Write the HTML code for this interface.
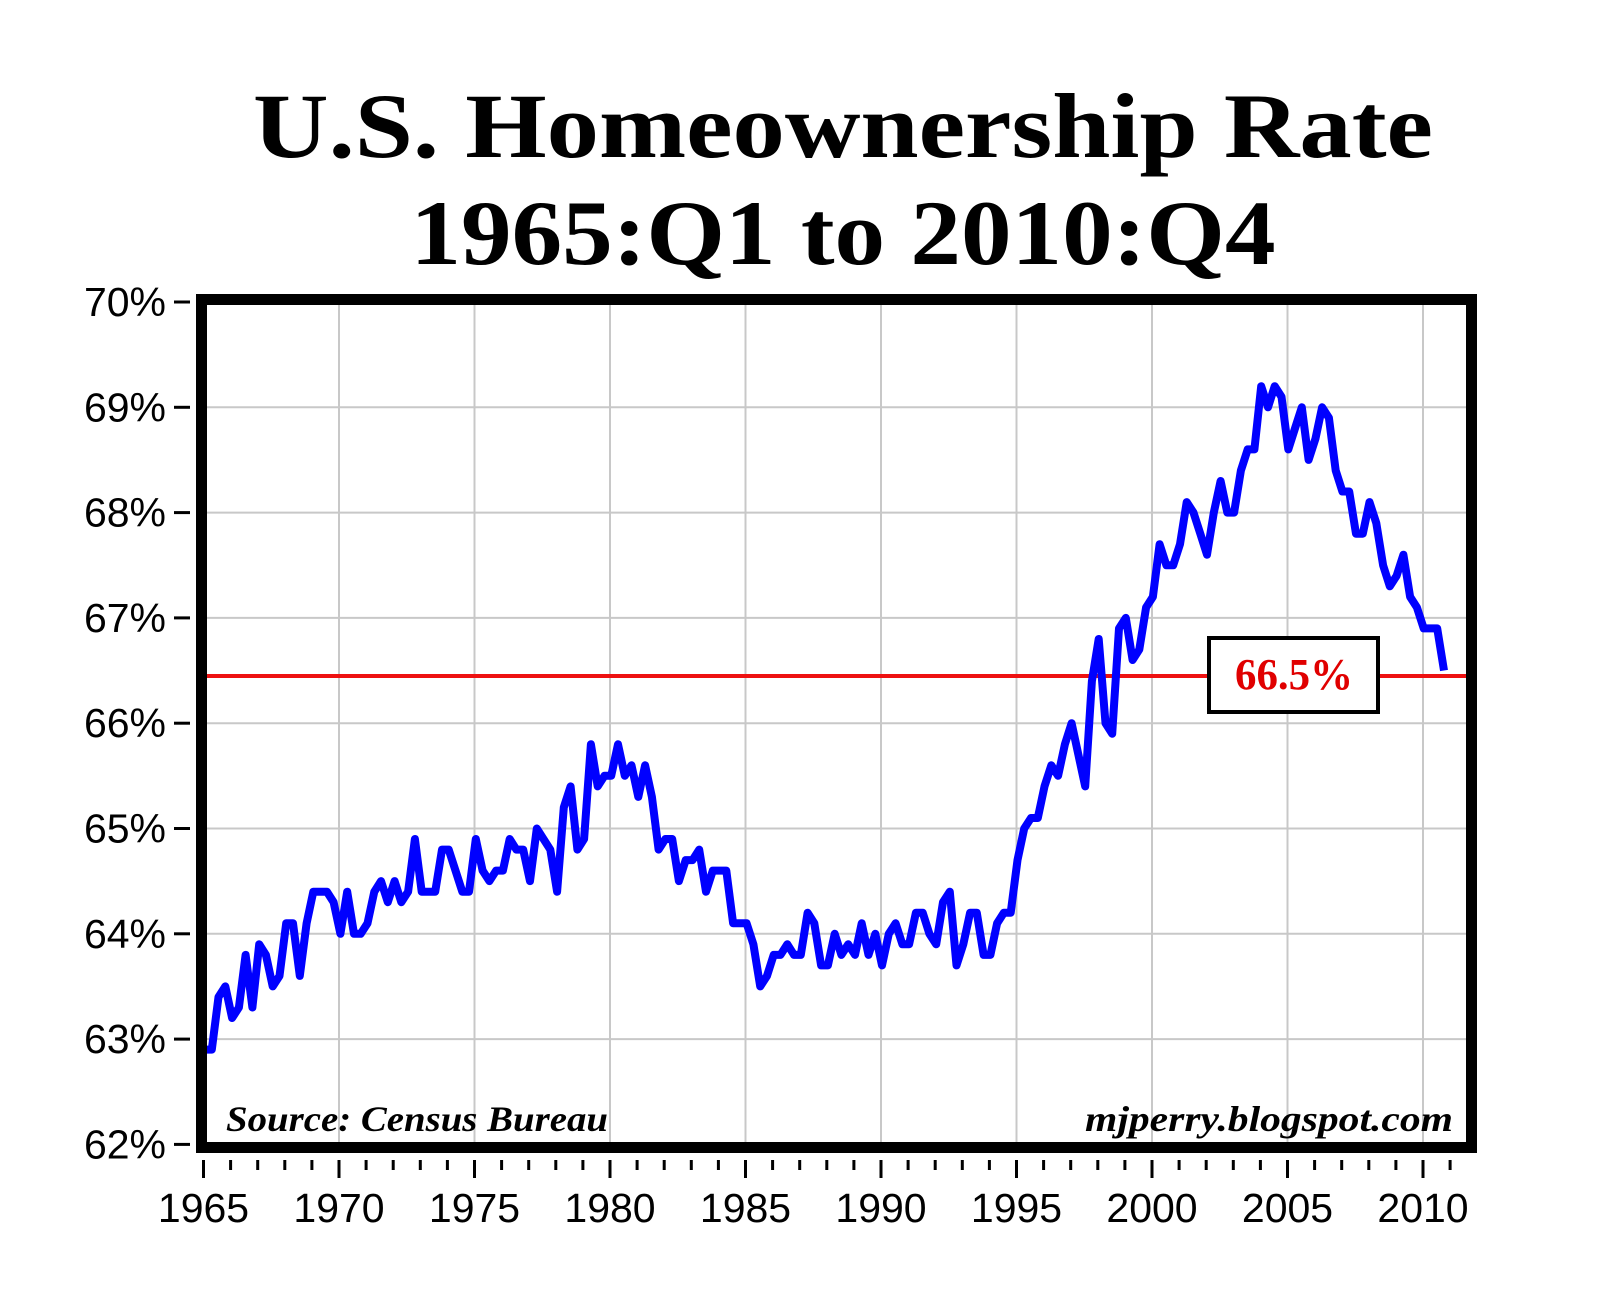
<!DOCTYPE html>
<html><head><meta charset="utf-8"><style>
html,body{margin:0;padding:0;background:#fff;}
svg{display:block;}
</style></head><body>
<svg id="s" width="1600" height="1304" viewBox="0 0 1600 1304" xmlns="http://www.w3.org/2000/svg">
<rect width="1600" height="1304" fill="#fff"/>
<text x="843" y="157" text-anchor="middle" font-family="Liberation Serif, serif" font-weight="bold" font-size="92" textLength="1180" lengthAdjust="spacingAndGlyphs">U.S. Homeownership Rate</text>
<text x="843" y="264" text-anchor="middle" font-family="Liberation Serif, serif" font-weight="bold" font-size="92" textLength="865" lengthAdjust="spacingAndGlyphs">1965:Q1 to 2010:Q4</text>
<g id="grid" stroke="#c8c8c8" stroke-width="2"></g>
<g id="ticks" stroke="#000" stroke-width="3"></g>
<g id="labels" font-family="Liberation Sans, sans-serif" font-size="41" fill="#000"></g>
<line x1="203" y1="676" x2="1472" y2="676" stroke="#ee1111" stroke-width="4"/>
<polyline id="ser" fill="none" stroke="#0000ff" stroke-width="8" stroke-linejoin="round"/>
<rect x="1209" y="638" width="169" height="74" fill="#fff" stroke="#000" stroke-width="4"/>
<text x="1294" y="689" text-anchor="middle" font-family="Liberation Serif, serif" font-weight="bold" font-size="44" fill="#e00000" textLength="118" lengthAdjust="spacingAndGlyphs">66.5%</text>
<rect x="201.5" y="299.5" width="1270" height="848" fill="none" stroke="#000" stroke-width="11"/>
<text x="226" y="1131" font-family="Liberation Serif, serif" font-weight="bold" font-style="italic" font-size="36" textLength="382" lengthAdjust="spacingAndGlyphs">Source: Census Bureau</text>
<text x="1085" y="1131" font-family="Liberation Serif, serif" font-weight="bold" font-style="italic" font-size="36" textLength="368" lengthAdjust="spacingAndGlyphs">mjperry.blogspot.com</text>
</svg>
<script>
var ns="http://www.w3.org/2000/svg";
function el(p,t,a,txt){var e=document.createElementNS(ns,t);for(var k in a)e.setAttribute(k,a[k]);if(txt)e.textContent=txt;document.getElementById(p).appendChild(e);}
function Y(v){return 302+(70-v)*105.3;}
function X(y){return 203.5+(y-1965)*27.1;}
for(var v=62;v<=70;v++){
 el("grid","line",{x1:206,x2:1467,y1:Y(v),y2:Y(v)});
 el("ticks","line",{x1:174,x2:190,y1:Y(v),y2:Y(v)});
 el("labels","text",{x:166,y:Y(v)+14,"text-anchor":"end"},v+"%");
}
for(var y=1965;y<=2011;y++){
 var x=X(y);
 if(y%5==0){el("grid","line",{x1:x,x2:x,y1:305,y2:1142});
  el("ticks","line",{x1:x,x2:x,y1:1160,y2:1178});
  el("labels","text",{x:x,y:1222,"text-anchor":"middle"},""+y);}
 else el("ticks","line",{x1:x,x2:x,y1:1160,y2:1170});
}
var d=[62.9,62.9,63.4,63.5,63.2,63.3,63.8,63.3,63.9,63.8,63.5,63.6,64.1,64.1,63.6,64.1,64.4,64.4,64.4,64.3,64.0,64.4,64.0,64.0,64.1,64.4,64.5,64.3,64.5,64.3,64.4,64.9,64.4,64.4,64.4,64.8,64.8,64.6,64.4,64.4,64.9,64.6,64.5,64.6,64.6,64.9,64.8,64.8,64.5,65.0,64.9,64.8,64.4,65.2,65.4,64.8,64.9,65.8,65.4,65.5,65.5,65.8,65.5,65.6,65.3,65.6,65.3,64.8,64.9,64.9,64.5,64.7,64.7,64.8,64.4,64.6,64.6,64.6,64.1,64.1,64.1,63.9,63.5,63.6,63.8,63.8,63.9,63.8,63.8,64.2,64.1,63.7,63.7,64.0,63.8,63.9,63.8,64.1,63.8,64.0,63.7,64.0,64.1,63.9,63.9,64.2,64.2,64.0,63.9,64.3,64.4,63.7,63.9,64.2,64.2,63.8,63.8,64.1,64.2,64.2,64.7,65.0,65.1,65.1,65.4,65.6,65.5,65.8,66.0,65.7,65.4,66.4,66.8,66.0,65.9,66.9,67.0,66.6,66.7,67.1,67.2,67.7,67.5,67.5,67.7,68.1,68.0,67.8,67.6,68.0,68.3,68.0,68.0,68.4,68.6,68.6,69.2,69.0,69.2,69.1,68.6,68.8,69.0,68.5,68.7,69.0,68.9,68.4,68.2,68.2,67.8,67.8,68.1,67.9,67.5,67.3,67.4,67.6,67.2,67.1,66.9,66.9,66.9,66.5];
var pts=[];for(var i=0;i<d.length;i++){var x=205+i*(1444-205)/(d.length-1);pts.push(x.toFixed(1)+","+Y(d[i]).toFixed(1));}
document.getElementById("ser").setAttribute("points",pts.join(" "));
</script>
</body></html>
